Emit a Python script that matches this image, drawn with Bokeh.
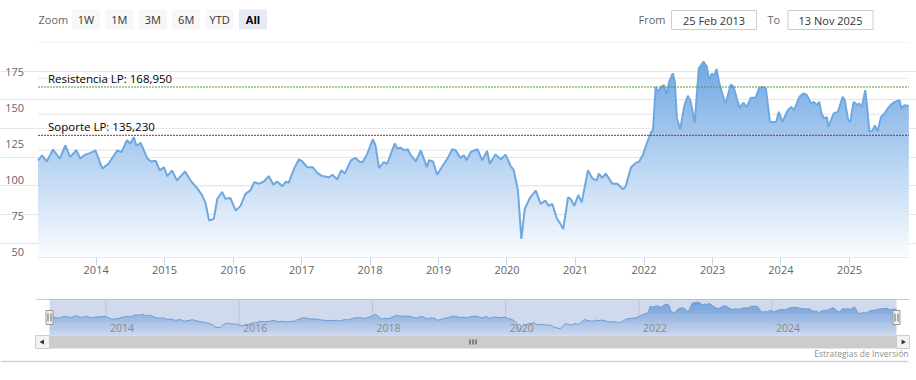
import datetime as dt
import numpy as np
from bokeh.plotting import figure
from bokeh.layouts import column
from bokeh.models import Range1d, FixedTicker, Label, DatetimeTickFormatter
from bokeh.core.properties import value
from bokeh.embed import file_html
from bokeh.resources import INLINE

FONT = "Open Sans"

# ---------------- data ----------------
START = "2013-02-25"
END = "2025-11-13"

years = [
    2013.151, 2013.21, 2013.28, 2013.37, 2013.47, 2013.55, 2013.62, 2013.71, 2013.77, 2013.84, 2013.92, 2013.99,
    2014.09, 2014.18, 2014.31, 2014.37, 2014.45, 2014.50, 2014.55, 2014.59, 2014.65, 2014.75, 2014.80, 2014.87, 2014.93, 2014.99,
    2015.04, 2015.11, 2015.18, 2015.30, 2015.38, 2015.48, 2015.55, 2015.60, 2015.65, 2015.72, 2015.77, 2015.84, 2015.89, 2015.96,
    2016.04, 2016.11, 2016.18, 2016.25, 2016.31, 2016.38, 2016.45, 2016.52, 2016.59, 2016.64, 2016.72, 2016.77, 2016.81, 2016.89, 2016.96,
    2017.01, 2017.08, 2017.16, 2017.23, 2017.30, 2017.40, 2017.45, 2017.52, 2017.58, 2017.63, 2017.72, 2017.79, 2017.84, 2017.89, 2017.96,
    2018.04, 2018.08, 2018.13, 2018.20, 2018.25, 2018.36, 2018.40, 2018.45, 2018.50, 2018.55, 2018.59, 2018.67, 2018.74, 2018.83, 2018.86, 2018.92, 2018.98,
    2019.06, 2019.13, 2019.20, 2019.25, 2019.32, 2019.37, 2019.41, 2019.47, 2019.57, 2019.64, 2019.71, 2019.75, 2019.83, 2019.91, 2019.98,
    2020.05, 2020.10, 2020.16, 2020.21, 2020.26, 2020.34, 2020.42, 2020.49, 2020.56, 2020.61, 2020.66, 2020.73, 2020.78, 2020.82, 2020.89, 2020.93, 2020.98,
    2021.04, 2021.09, 2021.18, 2021.25, 2021.31, 2021.34, 2021.39, 2021.44, 2021.54, 2021.61, 2021.69, 2021.73, 2021.81, 2021.88, 2021.93, 2021.98,
    2022.03, 2022.10, 2022.13, 2022.17, 2022.20, 2022.25, 2022.29, 2022.33, 2022.37, 2022.42, 2022.45, 2022.48, 2022.53, 2022.59, 2022.64, 2022.68, 2022.74, 2022.80, 2022.87, 2022.92, 2022.95, 2022.99,
    2023.02, 2023.06, 2023.10, 2023.15, 2023.19, 2023.27, 2023.31, 2023.36, 2023.40, 2023.45, 2023.50, 2023.56, 2023.63, 2023.68, 2023.73, 2023.78, 2023.84, 2023.93, 2023.97,
    2024.02, 2024.10, 2024.15, 2024.19, 2024.27, 2024.33, 2024.38, 2024.44, 2024.48, 2024.52, 2024.56, 2024.59, 2024.63, 2024.67, 2024.69, 2024.77, 2024.83, 2024.90, 2024.93, 2024.98,
    2025.01, 2025.06, 2025.11, 2025.14, 2025.18, 2025.23, 2025.25, 2025.29, 2025.34, 2025.37, 2025.41, 2025.46, 2025.51, 2025.56, 2025.60, 2025.66, 2025.73, 2025.76, 2025.80, 2025.866,
]

prices = [
    117.8, 121.3, 117.0, 125.3, 119.0, 128.3, 120.0, 124.8, 119.0, 121.8, 123.0, 124.8,
    112.0, 115.4, 124.8, 123.5, 131.8, 129.5, 134.0, 128.0, 130.0, 119.0, 117.0, 117.5, 110.8, 113.0,
    106.8, 110.8, 103.7, 110.0, 103.7, 98.0, 93.4, 87.7, 75.7, 77.0, 91.0, 95.7, 91.0, 91.5,
    82.7, 86.0, 94.4, 96.6, 102.5, 101.5, 103.0, 106.8, 100.7, 103.0, 99.8, 103.0, 102.0, 112.0, 118.5,
    117.0, 113.0, 113.0, 109.0, 106.8, 106.0, 107.7, 104.5, 111.0, 108.5, 117.8, 119.5, 117.0, 116.5, 122.4,
    132.5, 128.0, 112.4, 116.5, 115.4, 129.5, 126.0, 126.5, 124.8, 125.5, 121.8, 117.0, 124.8, 113.0, 117.8, 117.0, 107.7,
    114.0, 119.0, 125.5, 124.8, 119.5, 121.3, 117.8, 123.6, 125.5, 117.8, 124.3, 115.4, 121.8, 118.5, 121.8,
    114.2, 110.8, 96.7, 62.9, 84.0, 92.0, 96.7, 87.4, 89.7, 86.0, 87.4, 76.9, 73.4, 69.9, 92.0, 90.8, 86.0,
    93.6, 88.5, 110.8, 105.0, 103.8, 108.5, 105.5, 108.5, 101.4, 101.4, 97.6, 99.3, 113.0, 116.0, 117.0, 121.3,
    128.3, 137.2, 138.8, 169.1, 165.6, 169.1, 170.3, 163.8, 173.1, 178.5, 172.8, 147.0, 139.5, 156.3, 162.8, 159.0, 144.0, 182.0, 186.6, 183.0, 173.8, 178.5,
    176.5, 181.5, 171.5, 163.3, 157.5, 170.8, 169.0, 160.0, 154.4, 158.0, 155.0, 161.4, 161.4, 168.0, 169.0, 168.0, 144.6, 144.6, 151.6,
    144.6, 152.8, 155.0, 152.8, 162.1, 164.5, 163.3, 157.5, 158.6, 156.3, 158.6, 150.5, 147.0, 148.0, 141.1, 150.5, 151.6, 162.1, 160.0, 145.8,
    144.6, 158.6, 156.3, 157.5, 155.0, 166.8, 158.6, 137.6, 138.7, 142.2, 138.0, 148.1, 150.5, 154.0, 156.3, 158.6, 159.8, 154.0, 156.3, 155.7,
]

y_ticks = [50, 75, 100, 125, 150, 175]
grid_values = [75, 100, 125, 150, 175, 200]
x_tick_years = list(range(2014, 2026))
nav_tick_years = [2014, 2016, 2018, 2020, 2022, 2024]

resistance = 168.95
resistance_label = "Resistencia LP: 168,950"
support = 135.23
support_label = "Soporte LP: 135,230"

zoom_buttons = ["1W", "1M", "3M", "6M", "YTD", "All"]
from_text = "25 Feb 2013"
to_text = "13 Nov 2025"
credit = "Estrategias de Inversión"

assert len(years) == len(prices)

# ---------------- helpers ----------------
EPOCH = dt.datetime(1970, 1, 1)


def frac_to_dt(f):
    y = int(f)
    a = dt.datetime(y, 1, 1)
    b = dt.datetime(y + 1, 1, 1)
    return a + (b - a) * (f - y)


def ms(d):
    return (d - EPOCH).total_seconds() * 1000.0


t0 = dt.datetime.fromisoformat(START)
t1 = dt.datetime.fromisoformat(END)
dates = [frac_to_dt(f) for f in years]
dates[0] = t0
dates[-1] = t1
xs = np.array([ms(d) for d in dates])
vals = np.array(prices, dtype=float)

BASE = np.array([112, 168, 228], dtype=float)
WHITE = np.array([252, 253, 255], dtype=float)


def grad_color(v, vtop, vbot):
    t = min(max((vtop - v) / (vtop - vbot), 0.0), 1.0)
    c = BASE * (1 - t) + WHITE * t
    return "#%02x%02x%02x" % tuple(int(round(x)) for x in c)


def refine(edges):
    """Same polyline, with the points where it crosses band edges added."""
    rx, ry = [xs[0]], [vals[0]]
    for i in range(len(xs) - 1):
        xa, xb, ya, yb = xs[i], xs[i + 1], vals[i], vals[i + 1]
        if yb != ya:
            a, b = min(ya, yb), max(ya, yb)
            cr = edges[(edges > a) & (edges < b)]
            ts = np.sort((cr - ya) / (yb - ya))
            for t in ts:
                rx.append(xa + t * (xb - xa))
                ry.append(ya + t * (yb - ya))
        rx.append(xb)
        ry.append(yb)
    return np.array(rx), np.array(ry)


def gradient_area(fig, lo_val, hi_val, n, vtop, vbot, **kw):
    edges = np.linspace(lo_val, hi_val, n + 1)
    rx, ry = refine(edges)
    for lo, hi in zip(edges[:-1], edges[1:]):
        y2 = np.clip(ry, lo, hi)
        y1 = np.where(ry > lo + 1e-9, lo - (hi - lo) * 0.3, y2)
        fig.varea(x=rx, y1=y1, y2=y2, fill_color=grad_color((lo + hi) / 2, vtop, vbot), **kw)


LINE_COLOR = "#6fa8e0"
TXT = "#666666"
W = 916

# ---------------- top bar (page pixels) ----------------
TOP_H = 41
pt = figure(width=W, height=TOP_H, x_range=Range1d(0, W), y_range=Range1d(TOP_H, 0),
            min_border=0, x_axis_location=None, y_axis_location=None,
            output_backend="svg", toolbar_location=None)
pt.outline_line_color = None
pt.grid.visible = False

pt.text(x=[38], y=[19], text=["Zoom"], text_align="left", text_baseline="middle",
        text_font=value(FONT), text_font_size="11px", text_color=TXT)
bx = [85.5 + 33.4 * i for i in range(len(zoom_buttons))]
fills = ["#f7f7f7"] * (len(zoom_buttons) - 1) + ["#e6ebf5"]
pt.rect(x=bx, y=19, width=28, height=20, fill_color=fills, line_color=None)
pt.text(x=bx[:-1], y=[19] * (len(bx) - 1), text=zoom_buttons[:-1], text_align="center",
        text_baseline="middle", text_font=value(FONT), text_font_size="11px", text_color="#333333")
pt.text(x=bx[-1:], y=[19], text=zoom_buttons[-1:], text_align="center",
        text_baseline="middle", text_font=value(FONT), text_font_size="11px",
        text_color="#000000", text_font_style="bold")

pt.text(x=[638], y=[19], text=["From"], text_align="left", text_baseline="middle",
        text_font=value(FONT), text_font_size="11px", text_color=TXT)
pt.text(x=[767], y=[19], text=["To"], text_align="left", text_baseline="middle",
        text_font=value(FONT), text_font_size="11px", text_color=TXT)
pt.rect(x=[713.5, 830], y=19.5, width=85, height=19, fill_color="#ffffff", line_color="#cccccc")
pt.text(x=[713.5, 830], y=[19.5, 19.5], text=[from_text, to_text], text_align="center",
        text_baseline="middle", text_font=value(FONT), text_font_size="11px", text_color="#333333")

# ---------------- main chart ----------------
PLOT_L, PLOT_R = 37.5, 908.3          # page x of first / last date
s_main = (ms(t1) - ms(t0)) / (PLOT_R - PLOT_L)
MAIN_H = 252
p = figure(width=W, height=MAIN_H, x_axis_type="datetime",
           x_range=Range1d(ms(t0) - PLOT_L * s_main, ms(t0) + (W - PLOT_L) * s_main),
           y_range=Range1d(50, 200), y_axis_location=None,
           min_border_left=0, min_border_right=0, min_border_top=1, min_border_bottom=36,
           output_backend="svg", toolbar_location=None)
p.outline_line_color = None
p.xgrid.visible = False

p.segment(x0=ms(t0), x1=ms(t1), y0=grid_values, y1=grid_values,
          line_color="#e6e6e6", line_width=1)

gradient_area(p, 50, 188, 60, 186.6, 50)
p.line(x=dates, y=prices, line_color=LINE_COLOR, line_width=2)

p.segment(x0=[ms(t0)], x1=[ms(t1)], y0=[50], y1=[50], line_color="#ccd6eb", line_width=1)

p.segment(x0=[ms(t0)], x1=[ms(t1)], y0=[resistance], y1=[resistance],
          line_color="#4f9a3e", line_dash="2 1", line_width=1)
p.segment(x0=[ms(t0)], x1=[ms(t1)], y0=[support], y1=[support],
          line_color="#b22222", line_dash="2 1", line_width=1)
for yv, txt in [(resistance, resistance_label), (support, support_label)]:
    p.add_layout(Label(x=ms(t0), y=yv, text=txt, x_offset=10, y_offset=9,
                       text_baseline="middle", text_font=FONT, text_font_size="11.5px",
                       text_color="#000000"))

p.text(x=[ms(t0)] * len(y_ticks), y=y_ticks, text=[str(v) for v in y_ticks],
       x_offset=-14, y_offset=-6, text_align="right", text_baseline="middle",
       text_font=value(FONT), text_font_size="11px", text_color=TXT)

ax = p.xaxis[0]
ax.ticker = FixedTicker(ticks=[ms(dt.datetime(y, 1, 1)) for y in x_tick_years])
ax.formatter = DatetimeTickFormatter(years="%Y", months="%Y", days="%Y")
ax.axis_line_color = None
ax.major_tick_line_color = "#ccd6eb"
ax.minor_tick_line_color = None
ax.major_tick_out = 8
ax.major_tick_in = 0
ax.minor_tick_out = 0
ax.major_label_standoff = 0
ax.major_label_text_color = TXT
ax.major_label_text_font = FONT
ax.major_label_text_font_size = "11px"

# ---------------- navigator (page pixels, nav ranges for the series) ----------------
NAV_H = 72
pn = figure(width=W, height=NAV_H, x_range=Range1d(0, W), y_range=Range1d(NAV_H, 0),
            min_border=0, x_axis_location=None, y_axis_location=None,
            output_backend="svg", toolbar_location=None)
pn.outline_line_color = None
pn.grid.visible = False

NAV_L, NAV_R, NAV_T, NAV_B = 49, 896, 6, 42
nav_lo, nav_hi = 41.0, 198.4
s = (ms(t1) - ms(t0)) / (NAV_R - NAV_L)
k = (NAV_B - NAV_T) / (nav_hi - nav_lo)
pn.extra_x_ranges = {"nav": Range1d(ms(t0) - NAV_L * s, ms(t0) + (W - NAV_L) * s)}
pn.extra_y_ranges = {"nav": Range1d(nav_lo - (NAV_H - NAV_B) / k, nav_lo + NAV_B / k)}

pn.segment(x0=[35], y0=[NAV_T], x1=[909], y1=[NAV_T], line_color="#cccccc", line_width=1)
nav_ticks = [ms(dt.datetime(y, 1, 1)) for y in nav_tick_years]
pn.segment(x0=nav_ticks, y0=NAV_T, x1=nav_ticks, y1=NAV_B, line_color="#e0e0e0",
           line_width=1, x_range_name="nav")
gradient_area(pn, nav_lo, 188, 30, 186.6, nav_lo, x_range_name="nav", y_range_name="nav")
pn.line(x=dates, y=prices, line_color=LINE_COLOR, line_width=1,
        x_range_name="nav", y_range_name="nav")
pn.quad(left=NAV_L, right=NAV_R, top=NAV_T, bottom=NAV_B, fill_color="#6685c2",
        fill_alpha=0.3, line_color=None)
pn.text(x=nav_ticks, y=[34] * len(nav_ticks), text=[str(y) for y in nav_tick_years],
        x_offset=4, text_align="left", text_baseline="middle", x_range_name="nav",
        text_font=value(FONT), text_font_size="10.5px", text_color="#8a8a8a")

# scrollbar
pn.quad(left=NAV_L, right=NAV_R, top=NAV_B, bottom=55, fill_color="#cccccc", line_color=None)
pn.quad(left=[35, NAV_R], right=[NAV_L, 909], top=NAV_B, bottom=55, fill_color="#f2f2f2",
        line_color="#cccccc", line_width=1)
pn.scatter(x=[42], y=[48.5], marker="triangle", size=5, angle=np.pi / 2,
           fill_color="#333333", line_color=None)
pn.scatter(x=[902.5], y=[48.5], marker="triangle", size=5, angle=-np.pi / 2,
           fill_color="#333333", line_color=None)
gx = (NAV_L + NAV_R) / 2
pn.segment(x0=[gx - 3, gx, gx + 3], y0=46, x1=[gx - 3, gx, gx + 3], y1=51,
           line_color="#333333", line_width=1)

# handles
pn.rect(x=[NAV_L, NAV_R], y=24, width=7, height=14, fill_color="#f2f2f2", line_color="#999999")
hx = [NAV_L - 1.5, NAV_L + 1.5, NAV_R - 1.5, NAV_R + 1.5]
pn.segment(x0=hx, y0=20, x1=hx, y1=28, line_color="#666666", line_width=1)

pn.text(x=[908], y=[60], text=[credit], text_align="right", text_baseline="middle",
        text_font=value(FONT), text_font_size="8.5px", text_color="#909090")
pn.segment(x0=[0], y0=[68], x1=[908], y1=[68], line_color="#ccd3e0", line_width=1.5)

layout = column(pt, p, pn)

with open("out.html", "w") as f:
    f.write(file_html(layout, INLINE))
